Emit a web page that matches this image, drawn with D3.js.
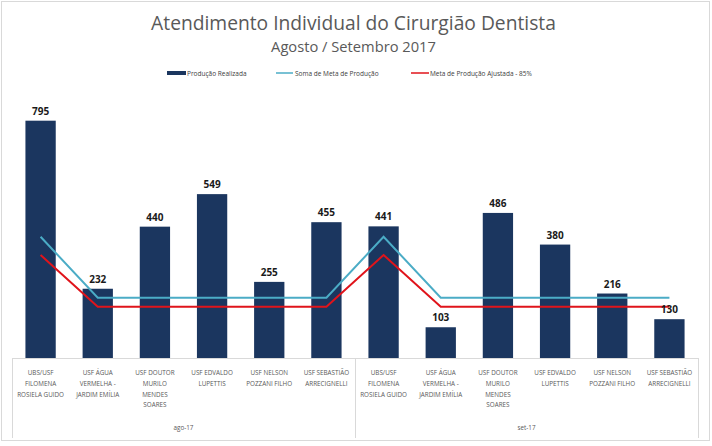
<!DOCTYPE html>
<html><head><meta charset="utf-8">
<script src="https://cdn.jsdelivr.net/npm/d3@7"></script>
<style>html,body{margin:0;padding:0;background:#fff;}svg{display:block;}</style>
</head><body>
<svg id="c" width="712" height="446"></svg>
<script>
const months = ["ago-17", "set-17"];
const units = [
  ["UBS/USF", "FILOMENA", "ROSIELA GUIDO"],
  ["USF ÁGUA", "VERMELHA -", "JARDIM EMÍLIA"],
  ["USF DOUTOR", "MURILO", "MENDES", "SOARES"],
  ["USF EDVALDO", "LUPETTIS"],
  ["USF NELSON", "POZZANI FILHO"],
  ["USF SEBASTIÃO", "ARRECIGNELLI"]
];
const producao = [795, 232, 440, 549, 255, 455, 441, 103, 486, 380, 216, 130];
const metaSoma = [406, 202, 202, 202, 202, 202, 406, 202, 202, 202, 202, 202];
const metaAjust = [345, 172, 172, 172, 172, 172, 345, 172, 172, 172, 172, 172];
const seriesNames = ["Produção Realizada", "Soma de Meta de Produção", "Meta de Produção  Ajustada - 85%"];
const title = "Atendimento Individual do Cirurgião Dentista";
const subtitle = "Agosto / Setembro 2017";

const svg = d3.select("#c");
const left = 12, right = 698, base = 358, axisBottom = 438;
const font = "'Open Sans', 'Liberation Sans', sans-serif";
const cBar = "#1B365F", cMeta = "#4BACC6", cAdj = "#E0141B";

svg.append("rect").attr("x", 1.5).attr("y", 1.5).attr("width", 708).attr("height", 439)
  .attr("fill", "#fff").attr("stroke", "#D9D9D9");

const idx = d3.range(producao.length);
const x = d3.scaleBand().domain(idx).range([left, right]).paddingInner(0.47).paddingOuter(0.235);
const y = d3.scaleLinear().domain([0, 900]).range([base, base - 900 * 0.2985]);

function fit(sel, w) {
  const n = sel.node(); const l = n.getComputedTextLength();
  const fs = parseFloat(sel.attr("font-size"));
  sel.attr("font-size", fs * w / l);
}

const t = svg.append("text").attr("x", 353.5).attr("y", 30).attr("text-anchor", "middle")
  .attr("font-family", font).attr("font-size", 20).attr("fill", "#595959").text(title);
fit(t, 405);
const st = svg.append("text").attr("x", 353.5).attr("y", 51.5).attr("text-anchor", "middle")
  .attr("font-family", font).attr("font-size", 14).attr("fill", "#595959").text(subtitle);
fit(st, 165);

// legend
const lg = svg.append("g").attr("font-family", font).attr("font-size", 6.5).attr("fill", "#404040");
lg.append("rect").attr("x", 167).attr("y", 71).attr("width", 19).attr("height", 4).attr("fill", cBar);
lg.append("text").attr("x", 187).attr("y", 75.5).text(seriesNames[0]);
lg.append("line").attr("x1", 276).attr("x2", 293).attr("y1", 73).attr("y2", 73).attr("stroke", cMeta).attr("stroke-width", 1.5);
lg.append("text").attr("x", 295).attr("y", 75.5).text(seriesNames[1]);
lg.append("line").attr("x1", 411).attr("x2", 429).attr("y1", 73).attr("y2", 73).attr("stroke", cAdj).attr("stroke-width", 1.5);
lg.append("text").attr("x", 430).attr("y", 75.5).text(seriesNames[2]);

// bars
svg.append("g").selectAll("rect").data(idx).join("rect")
  .attr("x", i => x(i)).attr("width", x.bandwidth())
  .attr("y", i => y(producao[i])).attr("height", i => y(0) - y(producao[i]))
  .attr("fill", cBar);

// lines
const line = arr => d3.line().x(i => x(i) + x.bandwidth() / 2).y(i => y(arr[i]))(idx);
svg.append("path").attr("d", line(metaSoma)).attr("fill", "none").attr("stroke", cMeta).attr("stroke-width", 2);
svg.append("path").attr("d", line(metaAjust)).attr("fill", "none").attr("stroke", cAdj).attr("stroke-width", 2);

// data labels
svg.append("g").selectAll("text").data(idx).join("text")
  .attr("x", i => x(i) + x.bandwidth() / 2).attr("y", i => y(producao[i]) - 6)
  .attr("text-anchor", "middle").attr("font-family", font).attr("font-weight", "bold")
  .attr("font-size", 10).attr("fill", "#1a1a1a").text(i => producao[i]);

// axis
const ax = svg.append("g").attr("stroke", "#D9D9D9").attr("stroke-width", 1);
ax.append("line").attr("x1", left).attr("x2", right).attr("y1", base + 0.5).attr("y2", base + 0.5);
[0, 6, 12].forEach(k => {
  const xx = Math.round(left + k * (right - left) / 12) + 0.5;
  ax.append("line").attr("x1", xx).attr("x2", xx).attr("y1", base).attr("y2", axisBottom);
});

const cl = svg.append("g").attr("font-family", font).attr("font-size", 6.3).attr("fill", "#595959").attr("text-anchor", "middle");
idx.forEach(i => {
  const lines = units[i % units.length];
  const tx = cl.append("text").attr("x", x(i) + x.bandwidth() / 2).attr("y", 375);
  lines.forEach((s, j) => tx.append("tspan").attr("x", x(i) + x.bandwidth() / 2).attr("dy", j ? 10.8 : 0).text(s));
});
months.forEach((m, g) => {
  const cx = left + (g + 0.5) * (right - left) / 2;
  cl.append("text").attr("x", cx).attr("y", 430).text(m);
});
</script>
</body></html>
